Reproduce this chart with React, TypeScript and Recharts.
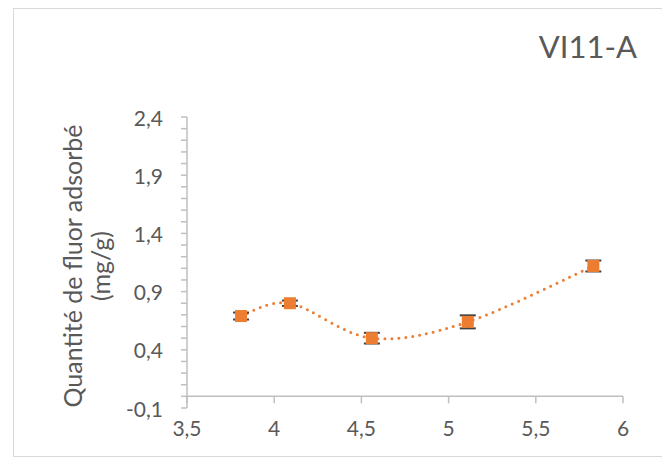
import React from 'react';
import {
  ComposedChart,
  Line,
  Scatter,
  XAxis,
  YAxis,
  ErrorBar,
  ReferenceLine,
} from 'recharts';

// pH of the solution and fluoride uptake (mg/g) with standard deviations
const phValues = [3.81, 4.09, 4.56, 5.11, 5.83];
const adsorbed = [0.69, 0.8, 0.5, 0.64, 1.12];
const deviations = [0.03, 0.023, 0.046, 0.056, 0.047];

const xTicks = [3.5, 4, 4.5, 5, 5.5, 6];
const yMajorTicks = [-0.1, 0.4, 0.9, 1.4, 1.9, 2.4];
const yAllTicks = [
  -0.1, 0, 0.1, 0.2, 0.3, 0.4, 0.5, 0.6, 0.7, 0.8, 0.9, 1.0, 1.1, 1.2, 1.3,
  1.4, 1.5, 1.6, 1.7, 1.8, 1.9, 2.0, 2.1, 2.2, 2.3, 2.4,
];

const chartTitle = 'VI11-A';
const yTitleLines = ['Quantité de fluor adsorbé', '(mg/g)'];

const data = phValues.map((x, i) => ({ x, y: adsorbed[i], err: deviations[i] }));

const FONT = "Lato, 'Open Sans', sans-serif";
const TEXT = '#595959';
const AXIS = '#bfbfbf';
const ORANGE = '#ED7D31';

const fmt = (v: number) => v.toFixed(1).replace('.', ',').replace(/,0$/, '');

// Smoothed line through every point (cubic Bézier with Catmull-Rom tangents)
const smoothCurve = (ctx: any) => {
  let pts: [number, number][] = [];
  return {
    areaStart() {},
    areaEnd() {},
    lineStart() {
      pts = [];
    },
    point(x: number, y: number) {
      pts.push([+x, +y]);
    },
    lineEnd() {
      if (!pts.length) return;
      ctx.moveTo(pts[0][0], pts[0][1]);
      for (let i = 0; i < pts.length - 1; i++) {
        const p0 = pts[i - 1] ?? pts[i];
        const p1 = pts[i];
        const p2 = pts[i + 1];
        const p3 = pts[i + 2] ?? p2;
        ctx.bezierCurveTo(
          p1[0] + (p2[0] - p0[0]) / 6,
          p1[1] + (p2[1] - p0[1]) / 6,
          p2[0] - (p3[0] - p1[0]) / 6,
          p2[1] - (p3[1] - p1[1]) / 6,
          p2[0],
          p2[1]
        );
      }
    },
  };
};

const YTick = (props: any) => {
  const { x, y, payload } = props;
  const v = payload.value as number;
  const isMajor = yMajorTicks.some((m) => Math.abs(m - v) < 1e-6);
  if (!isMajor) return null;
  return (
    <text
      x={x}
      y={y}
      textAnchor="end"
      dominantBaseline="central"
      fill={TEXT}
      fontFamily={FONT}
      fontSize={21}
    >
      {fmt(v)}
    </text>
  );
};

const XTick = (props: any) => {
  const { x, y, payload } = props;
  return (
    <text
      x={x}
      y={y + 19}
      textAnchor="middle"
      dominantBaseline="central"
      fill={TEXT}
      fontFamily={FONT}
      fontSize={21}
    >
      {fmt(payload.value)}
    </text>
  );
};

const YTitle = () => (
  <g fill={TEXT} fontFamily={FONT} fontSize={25}>
    <text x={74} y={258} textAnchor="middle" transform="rotate(-90, 74, 258)">
      {yTitleLines[0]}
    </text>
    <text x={102} y={258} textAnchor="middle" transform="rotate(-90, 102, 258)">
      {yTitleLines[1]}
    </text>
  </g>
);

const Square = (props: any) => {
  const { cx, cy } = props;
  return <rect x={cx - 6} y={cy - 6} width={12} height={12} fill={ORANGE} />;
};

export default function App() {
  return (
    <div style={{ position: 'relative', width: 662, height: 453 }}>
      <div
        style={{
          position: 'absolute',
          left: 5,
          top: 0,
          width: 652,
          height: 447,
          border: '1px solid #d9d9d9',
          background: '#fff',
        }}
      />
      <div
        style={{
          position: 'absolute',
          left: 0,
          top: 19,
          width: 629,
          textAlign: 'right',
          fontFamily: FONT,
          fontSize: 31,
          color: TEXT,
          lineHeight: 'normal',
        }}
      >
        {chartTitle}
      </div>
      <div style={{ position: 'absolute', left: 0, top: 0 }}>
        <ComposedChart
          width={662}
          height={453}
          data={data}
          margin={{ top: 109, right: 47, bottom: 23, left: 119 }}
        >
          <XAxis
            type="number"
            dataKey="x"
            domain={[3.5, 6]}
            ticks={xTicks}
            interval={0}
            axisLine={false}
            tickLine={false}
            tickSize={0}
            tickMargin={0}
            height={30}
            tick={<XTick />}
          />
          <YAxis
            type="number"
            domain={[-0.1, 2.4]}
            ticks={yAllTicks}
            interval={0}
            width={60}
            tickSize={6}
            tickMargin={18}
            axisLine={{ stroke: AXIS, strokeWidth: 1.5 }}
            tickLine={{ stroke: AXIS, strokeWidth: 1.5 }}
            tick={<YTick />}
            label={{ content: <YTitle /> }}
          />
          <ReferenceLine y={0} stroke={AXIS} strokeWidth={1.5} />
          {xTicks.map((t) => (
            <ReferenceLine
              key={t}
              segment={[
                { x: t, y: 0 },
                { x: t, y: -0.06 },
              ]}
              stroke={AXIS}
              strokeWidth={1.5}
            />
          ))}
          <Line
            dataKey="y"
            type={smoothCurve as any}
            stroke={ORANGE}
            strokeWidth={3}
            strokeDasharray="0 7"
            strokeLinecap="round"
            dot={false}
            activeDot={false}
            isAnimationActive={false}
          />
          <Scatter dataKey="y" fill={ORANGE} shape={<Square />} isAnimationActive={false}>
            <ErrorBar dataKey="err" direction="y" width={8} stroke="#404040" strokeWidth={2} />
          </Scatter>
        </ComposedChart>
      </div>
    </div>
  );
}
